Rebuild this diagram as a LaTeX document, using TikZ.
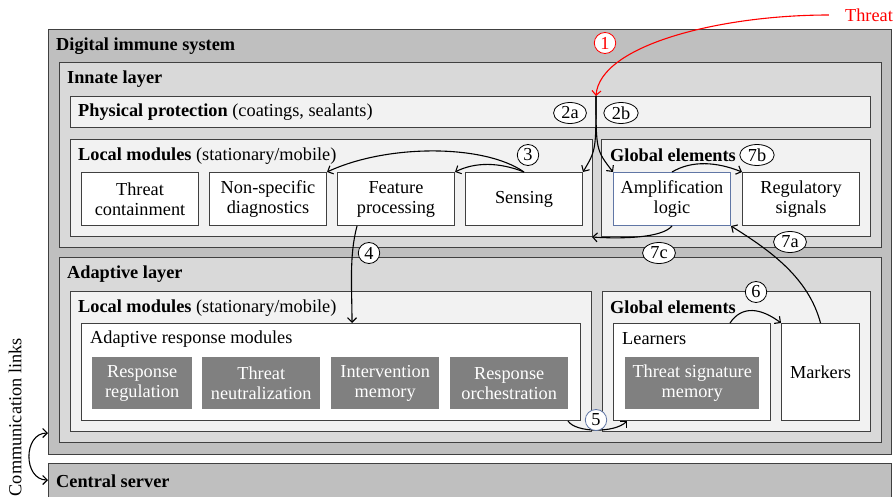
\documentclass[tikz,border=0pt]{standalone}
\usepackage{fontspec}
\setmainfont{Liberation Serif}
\usetikzlibrary{positioning,shapes.geometric,arrows.meta}
\definecolor{sysgray}{RGB}{191,191,191}
\definecolor{layergray}{RGB}{217,217,217}
\definecolor{panelgray}{RGB}{242,242,242}
\definecolor{modgray}{RGB}{128,128,128}
\definecolor{edgegray}{RGB}{64,64,64}
\definecolor{amplblue}{RGB}{96,118,165}
\newcommand{\diagfont}{\fontsize{18.3}{20}\selectfont}
\tikzset{
  box/.style={draw=edgegray, line width=1pt, anchor=north west, inner sep=0pt},
  heading/.style={anchor=west, inner sep=0pt},
  module/.style={draw=edgegray, line width=1pt, fill=white, align=center, inner sep=0pt, minimum width=117pt, minimum height=53pt},
  darkmodule/.style={fill=modgray, text=white, align=center, inner sep=0pt, minimum height=52pt, anchor=north west},
  tag/.style={ellipse, draw, fill=white, line width=0.8pt, inner xsep=3pt, inner ysep=0pt, minimum width=21pt, minimum height=21pt},
  flow/.style={-{Straight Barb[length=4.5pt,width=9pt]}, line width=1.1pt}
}
\begin{document}
\begin{tikzpicture}[x=1pt, y=-1pt, font=\diagfont]
\clip (0,0) rectangle (896,497);

% Digital immune system
\node[box, fill=sysgray, minimum width=843pt, minimum height=425pt] (dis) at (48,29) {};
\node[heading] (dis label) at (56,46) {\textbf{Digital immune system}};

% Central server
\node[box, fill=sysgray, minimum width=843pt, minimum height=45pt] (server) at (48,463) {};
\node[heading] (server label) at (56,481) {\textbf{Central server}};

% Innate layer
\node[box, fill=layergray, minimum width=822pt, minimum height=185pt] (innate) at (59,62) {};
\node[heading] (innate label) at (67,79) {\textbf{Innate layer}};

\node[box, fill=panelgray, minimum width=800pt, minimum height=31pt] (physical) at (70,96) {};
\node[heading] (physical label) at (78,112) {\textbf{Physical protection} (coatings, sealants)};

\node[box, fill=panelgray, minimum width=522pt, minimum height=97pt] (innate local) at (70,139) {};
\node[heading] (innate local label) at (78,156) {\textbf{Local modules} (stationary/mobile)};
\node[module, anchor=north west] (containment) at (81,172) {Threat\\containment};
\node[module, right=10pt of containment] (diagnostics) {Non-specific\\diagnostics};
\node[module, right=10pt of diagnostics] (feature) {Feature\\processing};
\node[module, right=10pt of feature] (sensing) {Sensing};

\node[box, fill=panelgray, minimum width=269pt, minimum height=97pt] (innate global) at (601,139) {};
\node[heading] (innate global label) at (610,155) {\textbf{Global elements}};
\node[module, draw=amplblue, anchor=north west] (amplification) at (613,172) {Amplification\\logic};
\node[module, right=11pt of amplification] (regulatory) {Regulatory\\signals};

% Adaptive layer
\node[box, fill=layergray, minimum width=822pt, minimum height=185pt] (adaptive) at (59,257) {};
\node[heading] (adaptive label) at (67,274) {\textbf{Adaptive layer}};

\node[box, fill=panelgray, minimum width=521pt, minimum height=140pt] (adaptive local) at (70,291) {};
\node[heading] (adaptive local label) at (78,308) {\textbf{Local modules} (stationary/mobile)};
\node[box, fill=white, minimum width=499pt, minimum height=97pt] (response) at (81,323) {};
\node[heading] (response label) at (90,339) {Adaptive response modules};
\node[darkmodule, minimum width=100pt] (regulation) at (92,357) {Response\\regulation};
\node[darkmodule, minimum width=118pt] (neutralization) at (202,357) {Threat\\neutralization};
\node[darkmodule, minimum width=108pt] (intervention) at (331,357) {Intervention\\memory};
\node[darkmodule, minimum width=118pt] (orchestration) at (450,357) {Response\\orchestration};

\node[box, fill=panelgray, minimum width=268pt, minimum height=140pt] (adaptive global) at (602,291) {};
\node[heading] (adaptive global label) at (610,307) {\textbf{Global elements}};
\node[box, fill=white, minimum width=157pt, minimum height=97pt] (learners) at (613,323) {};
\node[heading] (learners label) at (622,339) {Learners};
\node[darkmodule, minimum width=134pt] (signature) at (625,357) {Threat signature\\memory};
\node[box, fill=white, minimum width=78pt, minimum height=97pt] (markers) at (781,323) {Markers};

% Threat entry
\node[text=red, inner sep=0pt] (threat) at (869,15) {Threat};
\coordinate (hit) at (596,96);
\draw[flow, red] ([xshift=-16pt]threat.west) .. controls (720,15) and (600,45) .. (hit);
\node[tag, draw=red, text=red] (t1) at (605,43) {1};

% Innate flows
\draw[flow] (hit) .. controls (596,150) .. (sensing.north east);
\draw[flow] (hit) .. controls (596,150) .. (amplification.north west);
\node[tag] (t2a) at (570,113) {2a};
\node[tag] (t2b) at (621,113) {2b};

\draw[flow] (sensing.north) .. controls +(-25,-10) and +(20,-10) .. (feature.north east);
\draw[flow] (sensing.north) .. controls +(-40,-28) and +(60,-28) .. (diagnostics.north east);
\node[tag] (t3) at (528,155) {3};

\draw[flow] (amplification.north) .. controls +(20,-12) and +(-25,-10) .. (regulatory.north west);
\node[tag] (t7b) at (757,155) {7b};

\coordinate (back) at (592,237);
\draw[flow] (amplification.south) .. controls +(-10,12) and +(30,2) .. (back);
\node[tag] (t7c) at (659,253) {7c};

\draw[flow] (markers.north) .. controls +(-12,-45) and +(40,25) .. (amplification.south east);
\node[tag] (t7a) at (790,242) {7a};

% Adaptive flows
\draw[flow] ([xshift=-39pt]feature.south) .. controls +(-8,30) and +(0,-35) .. ([xshift=21pt]response.north);
\node[tag] (t4) at (369,253) {4};

\draw[flow] ([xshift=38pt]learners.north) .. controls +(12,-18) and +(-20,-15) .. (markers.north west);
\node[tag] (t6) at (756,292) {6};

\draw[flow] ([xshift=-13pt]response.south east) .. controls +(8,12) and +(-12,12) .. ([xshift=14pt]learners.south west);
\node[tag, draw=amplblue] (t5) at (596,420) {5};

% Communication links
\coordinate (link a) at (48,433);
\coordinate (link b) at (48,480);
\draw[{Straight Barb[length=4.5pt,width=9pt]}-{Straight Barb[length=4.5pt,width=9pt]}, line width=1.1pt] (link a) .. controls +(-25,0) and +(-25,0) .. (link b);
\node[rotate=90, anchor=east, inner sep=0pt] (links label) at (15,338) {Communication links};
\end{tikzpicture}
\end{document}
